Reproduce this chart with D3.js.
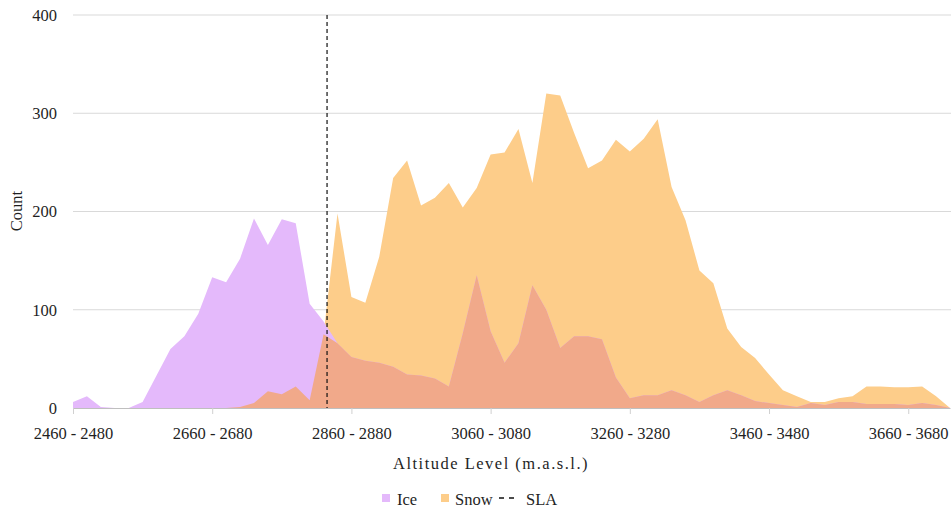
<!DOCTYPE html>
<html>
<head>
<meta charset="utf-8">
<script src="https://cdn.jsdelivr.net/npm/d3@7"></script>
<style>
  html, body { margin: 0; padding: 0; background: #fff; }
  svg { display: block; }
  svg text { font-family: "Liberation Serif", "DejaVu Serif", serif !important; }
</style>
</head>
<body>
<svg id="chart" width="951" height="508"></svg>
<script>
// Lower bound of each 20 m altitude bin (m.a.s.l.)
const binStart = [
  2460, 2480, 2500, 2520, 2540, 2560, 2580, 2600, 2620, 2640,
  2660, 2680, 2700, 2720, 2740, 2760, 2780, 2800, 2820, 2840,
  2860, 2880, 2900, 2920, 2940, 2960, 2980, 3000, 3020, 3040,
  3060, 3080, 3100, 3120, 3140, 3160, 3180, 3200, 3220, 3240,
  3260, 3280, 3300, 3320, 3340, 3360, 3380, 3400, 3420, 3440,
  3460, 3480, 3500, 3520, 3540, 3560, 3580, 3600, 3620, 3640,
  3660, 3680, 3700, 3720
];
const binWidth = 20;

// Pixel counts per altitude bin
const iceCounts = [
  6, 12, 1, 0, 0, 6, 33, 60, 73, 96,
  133, 128, 152, 193, 166, 192, 188, 106, 88, 66,
  52, 48, 46, 42, 34, 33, 30, 22, 76, 135,
  78, 46, 66, 125, 100, 61, 73, 73, 70, 31,
  10, 13, 13, 18, 13, 6, 13, 18, 13, 7,
  5, 3, 1, 5, 3, 6, 6, 4, 4, 4,
  3, 5, 3, 0
];
const snowCounts = [
  0, 0, 0, 0, 0, 0, 0, 0, 0, 0,
  0, 0, 1, 5, 17, 14, 22, 8, 75, 198,
  113, 107, 154, 234, 252, 206, 214, 229, 204, 224,
  258, 260, 284, 229, 320, 318, 280, 244, 252, 273,
  261, 274, 294, 225, 191, 140, 127, 81, 62, 51,
  34, 18, 12, 6, 6, 10, 12, 22, 22, 21,
  21, 22, 12, 0
];
// Snow line altitude (m.a.s.l.)
const slaAltitude = 2825;

const yTicks = [0, 100, 200, 300, 400];
const labelEvery = 10;

const colors = { ice: "#e4b9fb", snow: "#fdcd8a", overlap: "#f1a98a", grid: "#d9d9d9", text: "#1f1f1f" };
const fontSize = 16.5;

const categories = binStart.map(a => `${a} - ${a + binWidth}`);
const rows = categories.map((c, i) => ({ cat: c, ice: iceCounts[i], snow: snowCounts[i] }));

const svg = d3.select("#chart");
const plotLeft = 73, plotRight = 950, plotTop = 15, plotBottom = 408;

const x = d3.scalePoint().domain(categories).range([plotLeft, plotRight]);
const y = d3.scaleLinear().domain([0, 400]).range([plotBottom, plotTop]);
// altitude -> position, aligned with the bin lower bounds
const xAlt = d3.scaleLinear()
  .domain([binStart[0], binStart[binStart.length - 1]])
  .range([plotLeft, plotRight]);

// gridlines
svg.append("g")
  .selectAll("line")
  .data(yTicks.filter(t => t > 0))
  .join("line")
  .attr("x1", plotLeft).attr("x2", 951)
  .attr("y1", d => y(d)).attr("y2", d => y(d))
  .attr("stroke", colors.grid).attr("stroke-width", 1);

// y axis labels
const yAxis = d3.axisLeft(y).tickValues(yTicks).tickSize(0).tickPadding(16);
svg.append("g")
  .attr("transform", `translate(${plotLeft},0)`)
  .call(yAxis)
  .call(g => g.select(".domain").remove())
  .call(g => g.selectAll("text")
    .style("font-size", fontSize + "px")
    .attr("fill", colors.text));

// areas
const areaOf = key => d3.area()
  .x(d => x(d.cat))
  .y0(y(0))
  .y1(d => y(key(d)));

svg.append("path").datum(rows)
  .attr("fill", colors.snow)
  .attr("d", areaOf(d => d.snow));
svg.append("path").datum(rows)
  .attr("fill", colors.ice)
  .attr("d", areaOf(d => d.ice));
// where both classes are present
svg.append("path").datum(rows)
  .attr("fill", colors.overlap)
  .attr("d", areaOf(d => Math.min(d.ice, d.snow)));

// x axis
const xAxis = d3.axisBottom(x)
  .tickValues(categories.filter((c, i) => i % labelEvery === 0))
  .tickSize(6).tickPadding(13).tickSizeOuter(0);
svg.append("g")
  .attr("transform", `translate(0,${plotBottom})`)
  .call(xAxis)
  .call(g => g.select(".domain").attr("stroke", "#bfbfbf"))
  .call(g => g.selectAll(".tick line").attr("stroke", "#d0d0d0"))
  .call(g => g.selectAll("text")
    .style("font-size", fontSize + "px")
    .attr("fill", colors.text));

// snow line altitude marker
svg.append("line")
  .attr("x1", xAlt(slaAltitude)).attr("x2", xAlt(slaAltitude))
  .attr("y1", y(400)).attr("y2", y(0))
  .attr("stroke", "#111").attr("stroke-width", 1.2)
  .attr("stroke-dasharray", "4,3");

// axis titles
svg.append("text")
  .attr("x", 491).attr("y", 469)
  .attr("text-anchor", "middle")
  .style("font-size", fontSize + "px")
  .style("letter-spacing", "1.5px")
  .attr("fill", colors.text)
  .text("Altitude Level (m.a.s.l.)");

svg.append("text")
  .attr("transform", "translate(22,211) rotate(-90)")
  .attr("text-anchor", "middle")
  .style("font-size", fontSize + "px")
  .attr("fill", colors.text)
  .text("Count");

// legend
const legend = svg.append("g").style("font-size", fontSize + "px").attr("fill", colors.text);
legend.append("rect").attr("x", 382).attr("y", 494).attr("width", 8).attr("height", 8).attr("fill", colors.ice);
legend.append("text").attr("x", 397).attr("y", 505).text("Ice");
legend.append("rect").attr("x", 441).attr("y", 494).attr("width", 8).attr("height", 8).attr("fill", colors.snow);
legend.append("text").attr("x", 455).attr("y", 505).text("Snow");
legend.append("line").attr("x1", 499).attr("x2", 518).attr("y1", 498).attr("y2", 498)
  .attr("stroke", "#111").attr("stroke-width", 1.3).attr("stroke-dasharray", "5,5");
legend.append("text").attr("x", 526).attr("y", 505).text("SLA");
</script>
</body>
</html>
